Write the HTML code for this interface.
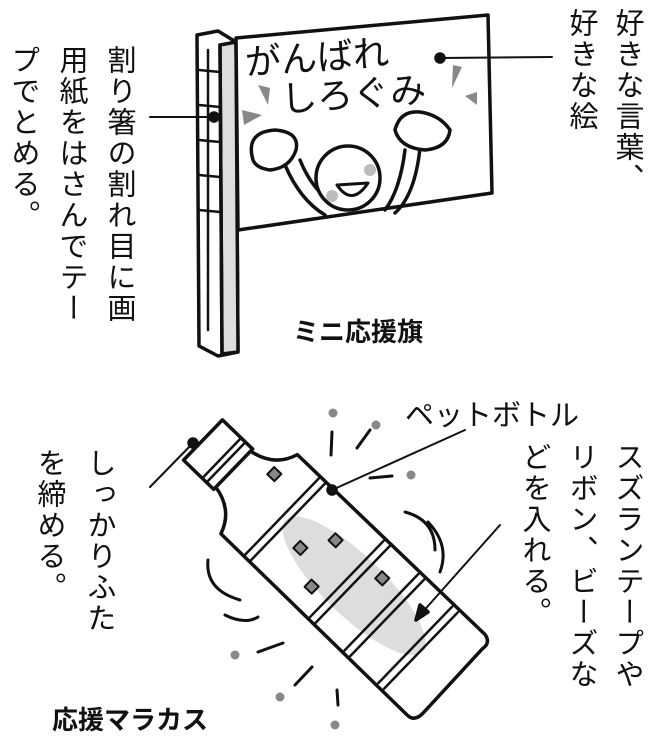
<!DOCTYPE html>
<html><head><meta charset="utf-8"><style>
html,body{margin:0;padding:0;background:#fff;}
body{width:660px;height:738px;position:relative;overflow:hidden;font-family:"Liberation Sans","Noto Sans CJK JP",sans-serif;}
.v{position:absolute;writing-mode:vertical-rl;font-size:29px;line-height:29px;color:#111;letter-spacing:2px;white-space:nowrap;}
.h{position:absolute;font-size:29px;color:#111;white-space:nowrap;}
.b{font-weight:bold;font-size:26px;}
svg{position:absolute;left:0;top:0;}
</style></head><body>
<svg width="660" height="738" viewBox="0 0 660 738" fill="none" stroke="#111" stroke-width="3.5" stroke-linejoin="round" stroke-linecap="round">
<!-- pole -->
<polygon points="197,35 218,31 236,42 238,352 218,356 199,346" fill="#fff"/>
<polygon points="220,45 236,42 238,352 222,354" fill="#ddd"/>
<line x1="220" y1="45" x2="222" y2="354"/>
<g stroke-width="2.5"><line x1="199" y1="70" x2="220" y2="72"/><line x1="199" y1="105" x2="220" y2="107"/><line x1="199" y1="140" x2="220" y2="142"/><line x1="199" y1="175" x2="220" y2="177"/><line x1="199" y1="210" x2="220" y2="212"/><line x1="208" y1="50" x2="208" y2="330"/></g>
<!-- flag -->
<polygon points="236,38 488,15 492,193 238,230" fill="#fff"/>
<text x="246" y="75" font-size="36" fill="#111" stroke="none" font-family="Liberation Sans,Noto Sans CJK JP,sans-serif" transform="rotate(-4 246 75)">がんばれ</text>
<text x="282" y="112" font-size="36" fill="#111" stroke="none" font-family="Liberation Sans,Noto Sans CJK JP,sans-serif" transform="rotate(-4 282 112)">しろぐみ</text>
<g fill="#888" stroke="none"><polygon points="242,110 262,115 244,125"/><polygon points="258,85 270,88 268,105"/><polygon points="453,65 462,67 452,88"/><polygon points="465,96 477,92 477,105"/></g>
<path d="M285,165 Q300,200 325,215 M300,160 Q312,190 335,205 M405,150 Q400,190 385,210 M420,148 Q415,195 395,213"/>
<path d="M253,160 Q245,132 275,130 Q300,132 296,150 Q290,168 270,170 Q256,168 253,160 Z" fill="#fff"/>
<path d="M395,130 Q400,110 420,112 Q440,115 450,130 Q448,148 425,150 Q400,148 395,130 Z" fill="#fff"/>
<circle cx="348" cy="178" r="32" fill="#fff"/>
<path d="M337,185 Q352,207 368,183 Z" stroke-width="3"/>
<circle cx="332" cy="196" r="6" fill="#bbb" stroke="none"/><circle cx="370" cy="170" r="6" fill="#bbb" stroke="none"/>
<!-- leaders top -->
<line x1="440" y1="58" x2="552" y2="57" stroke-width="2"/><circle cx="440" cy="58" r="4" fill="#111"/>
<line x1="150" y1="117" x2="215" y2="117" stroke-width="2"/><circle cx="214" cy="117" r="4" fill="#111"/>
<!-- bottle -->
<g transform="translate(203,440) rotate(44)">
<rect x="0" y="-28" width="42" height="56" fill="#fff"/>
<line x1="26" y1="-28" x2="26" y2="28" stroke-width="2.5"/><line x1="32" y1="-28" x2="32" y2="28" stroke-width="2.5"/>
<path d="M42,-25 Q70,-30 78,-55 L338,-56 Q348,-54 346,-44 L348,44 Q348,56 338,56 L78,55 Q70,30 42,25 Z" fill="#fff"/>
<ellipse cx="210" cy="0" rx="95" ry="30" fill="#ddd" stroke="none"/>
<g stroke-width="2.5"><line x1="110" y1="-53" x2="110" y2="53"/><line x1="118" y1="-53" x2="118" y2="53"/><line x1="200" y1="-53" x2="200" y2="53"/><line x1="208" y1="-53" x2="208" y2="53"/><line x1="248" y1="-53" x2="248" y2="53"/><line x1="256" y1="-53" x2="256" y2="53"/><line x1="295" y1="-53" x2="295" y2="53"/><line x1="303" y1="-53" x2="303" y2="53"/></g>
<g fill="#888" stroke-width="2"><rect x="70" y="-30" width="10" height="10"/><rect x="140" y="5" width="10" height="10"/><rect x="160" y="-25" width="10" height="10"/><rect x="175" y="25" width="10" height="10"/><rect x="220" y="-30" width="10" height="10"/></g>
</g>
<!-- motion lines/dots -->
<g fill="#888" stroke="none"><circle cx="333" cy="413" r="4.5"/><circle cx="376" cy="425" r="4.5"/><circle cx="411" cy="475" r="4.5"/><circle cx="235" cy="655" r="4.5"/><circle cx="280" cy="697" r="4.5"/><circle cx="335" cy="725" r="4.5"/></g>
<g stroke-width="3"><line x1="332" y1="432" x2="331" y2="455"/><line x1="357" y1="448" x2="370" y2="430"/><line x1="370" y1="478" x2="392" y2="476"/><line x1="258" y1="652" x2="283" y2="643"/><line x1="295" y1="685" x2="312" y2="667"/><line x1="337" y1="690" x2="338" y2="705"/>
<path d="M405,512 Q435,520 435,550 M428,522 Q450,545 440,572 M208,560 Q205,590 240,600 M225,615 Q245,625 258,617"/></g>
<!-- leaders bottom -->
<line x1="332" y1="490" x2="465" y2="430" stroke-width="2"/><circle cx="332" cy="490" r="4" fill="#111"/>
<line x1="420" y1="615" x2="500" y2="525" stroke-width="2"/><polygon points="416,620 428,612 420,605" fill="#111"/>
<line x1="193" y1="443" x2="150" y2="487" stroke-width="2"/><circle cx="193" cy="443" r="4" fill="#111"/>
</svg>
<div class="v" style="left:612px;top:8px;">好きな言葉、</div>
<div class="v" style="left:566px;top:8px;">好きな絵</div>
<div class="v" style="left:104px;top:45px;">割り箸の割れ目に画</div>
<div class="v" style="left:56px;top:45px;">用紙をはさんでテー</div>
<div class="v" style="left:8px;top:45px;">プでとめる。</div>
<div class="h b" style="left:293px;top:312px;">ミニ応援旗</div>
<div class="h" style="left:405px;top:392px;">ペットボトル</div>
<div class="v" style="left:612px;top:442px;">スズランテープや</div>
<div class="v" style="left:566px;top:442px;">リボン、ビーズな</div>
<div class="v" style="left:519px;top:442px;">どを入れる。</div>
<div class="v" style="left:84px;top:448px;">しっかりふた</div>
<div class="v" style="left:34px;top:448px;">を締める。</div>
<div class="h b" style="left:52px;top:700px;">応援マラカス</div>
</body></html>
